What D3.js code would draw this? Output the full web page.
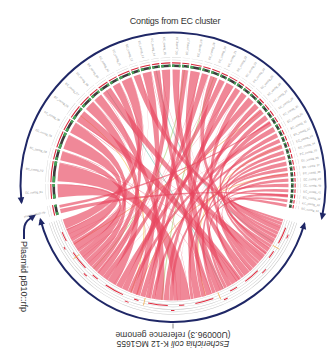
<!DOCTYPE html>
<html>
<head>
<meta charset="utf-8">
<script src="https://cdn.jsdelivr.net/npm/d3@7"></script>
<style>
  html, body { margin: 0; padding: 0; background: #fff; }
  svg { display: block; font-family: "Liberation Sans", Arial, Helvetica, sans-serif; }
</style>
</head>
<body>
<svg id="chart" width="330" height="348"></svg>
<script>
// ---- data -------------------------------------------------------------
const titleText = "Contigs from EC cluster";
const genomeLabel = ["Escherichia coli K-12 MG1655", "(U00096.3) reference genome"];
const plasmidTitle = "Plasmid pB10::rfp";
const plasmidName = "plasmid pB10::rfp";

const contigLabels = [
  "EC_contig_01","EC_contig_02","EC_contig_03","EC_contig_04","EC_contig_05",
  "EC_contig_06","EC_contig_07","EC_contig_08","EC_contig_09","EC_contig_10",
  "EC_contig_11","EC_contig_12","EC_contig_13","EC_contig_14","EC_contig_15",
  "EC_contig_16","EC_contig_17","EC_contig_18","EC_contig_19","EC_contig_20",
  "EC_contig_21","EC_contig_22","EC_contig_23","EC_contig_24","EC_contig_25",
  "EC_contig_26","EC_contig_27","EC_contig_28","EC_contig_29","EC_contig_30",
  "EC_contig_31","EC_contig_32","EC_contig_33","EC_contig_34","EC_contig_35",
  "EC_contig_36","EC_contig_37","EC_contig_38","EC_contig_39","EC_contig_40",
  "EC_contig_41","EC_contig_42","EC_contig_43","EC_contig_44"
];
// contig lengths, kb
const contigLengths = [
  210, 300, 150, 240, 180, 195, 165, 138, 150, 126,
  171, 114, 144, 105, 132, 120, 99, 153, 108, 117,
  96, 129, 90, 102, 111, 87, 93, 84, 81, 78,
  72, 66, 69, 63, 60, 66, 57, 60, 54, 57,
  51, 54, 48, 45
];
const genomeLength = 4641.652; // kb
const plasmidLength = 64.5;    // kb

// alignments: [contig #, contig start kb, contig end kb, genome start kb, genome end kb]
const contigLinks = [
  [1, 10, 199, 4059, 4248], [2, 15, 285, 2047, 2317], [3, 8, 143, 3752, 3887],
  [4, 12, 228, 4253, 4469], [5, 9, 171, 3892, 4054], [6, 10, 186, 1171, 1347],
  [7, 8, 157, 3265, 3414], [8, 7, 131, 2475, 2599], [9, 8, 143, 644, 779],
  [10, 6, 119, 3634, 3747], [11, 9, 163, 4474, 4628], [12, 6, 109, 112, 215],
  [13, 7, 137, 2848, 2978], [14, 5, 100, 1694, 1789], [15, 7, 126, 3510, 3629],
  [16, 6, 114, 999, 1107], [17, 5, 94, 2668, 2757], [18, 8, 146, 1489, 1627],
  [19, 5, 102, 3058, 3155], [20, 6, 111, 343, 448], [21, 5, 91, 3419, 3505],
  [22, 6, 122, 1872, 1988], [23, 4, 85, 2762, 2843], [24, 5, 97, 832, 924],
  [25, 6, 106, 3160, 3260], [26, 4, 82, 1352, 1430], [27, 5, 89, 2386, 2470],
  [28, 4, 80, 504, 580], [29, 4, 77, 1794, 1867], [30, 4, 74, 2983, 3053],
  [31, 4, 69, 929, 994], [32, 3, 62, 2604, 2663], [33, 3, 65, 276, 338],
  [34, 3, 60, 1632, 1689], [35, 3, 57, 585, 639], [36, 3, 62, 2322, 2381],
  [37, 3, 54, 220, 271], [38, 3, 57, 1112, 1166], [39, 3, 52, 1993, 2042],
  [40, 3, 54, 56, 107], [41, 3, 49, 453, 499], [42, 3, 52, 1435, 1484],
  [43, 2, 45, 784, 827], [44, 2, 43, 10, 51]
];
// short repeated hits (IS elements, rRNA operons)
const repeatLinks = [
  [2, 285, 298, 1200, 1213], [4, 228, 238, 2900, 2910], [6, 0, 9, 610, 619],
  [11, 163, 170, 4200, 4207], [15, 0, 6, 150, 156], [18, 146, 152, 3600, 3606],
  [13, 137, 143, 980, 986], [7, 157, 164, 2250, 2257], [22, 122, 128, 3950, 3956],
  [9, 0, 7, 4450, 4457], [25, 106, 110, 300, 304], [3, 143, 149, 1700, 1706],
  [30, 74, 77, 4000, 4003], [19, 102, 107, 520, 525], [1, 199, 209, 2600, 2610],
  [36, 62, 65, 3300, 3303], [5, 171, 179, 1250, 1258], [8, 0, 6, 3500, 3506],
  [10, 119, 125, 2050, 2056], [12, 109, 113, 4300, 4304], [14, 100, 104, 3000, 3004],
  [16, 114, 119, 2700, 2705], [20, 111, 116, 3820, 3825], [23, 85, 89, 1100, 1104],
  [26, 82, 86, 4100, 4104], [28, 80, 83, 2200, 2203], [31, 69, 71, 3450, 3452],
  [34, 60, 62, 4380, 4382], [17, 94, 98, 700, 704], [21, 91, 95, 1550, 1554]
];
// plasmid hits: [plasmid start kb, plasmid end kb, contig #, contig start kb, contig end kb]
const plasmidLinks = [
  [5, 33, 42, 10, 40],
  [40, 58, 29, 20, 40]
];
// faint single-gene hits: [contig #, contig kb, genome kb]
const minorLinks = [
  [6, 100, 3000], [14, 50, 400], [20, 60, 2500], [27, 40, 4200],
  [33, 30, 1800], [9, 70, 1500], [17, 40, 3700], [38, 20, 2900]
];
const minorColors = ["#f2c14e", "#7cc6b5", "#a6d06a", "#f29e4c"];

// genome feature tracks, kb
const genomeRedInner = [
  [120, 380], [520, 640], [900, 1150], [1300, 1420], [1700, 1980], [2150, 2230],
  [2400, 2700], [2850, 2920], [3100, 3400], [3550, 3650], [3800, 4100], [4300, 4450]
];
const genomeRedOuter = [
  [200, 260], [800, 880], [1500, 1560], [2300, 2350], [2980, 3040], [3700, 3760], [4200, 4240]
];
const genomeTicks = [450, 1600, 2760, 4020];

// ---- layout -----------------------------------------------------------
const cx = 173, cy = 185, R = 115.5;
const deg = Math.PI / 180;
const contigSpan = [263.5, 461];
const genomeSpan = [107, 253];
const plasmidSpan = [255.5, 260.5];
const gapDeg = 0.8;
const navy = "#1f2766";
const ribbonColor = "#e8455e";

const nC = contigLengths.length;
const kbPerDeg = d3.sum(contigLengths) / (contigSpan[1] - contigSpan[0] - gapDeg * (nC - 1));
const contigStartDeg = [];
{
  let acc = 0;
  contigLengths.forEach((len, i) => {
    contigStartDeg.push(contigSpan[0] + acc / kbPerDeg + i * gapDeg);
    acc += len;
  });
}
const cAngle = (c, kb) => (contigStartDeg[c - 1] + kb / kbPerDeg) * deg;
const gAngle = d3.scaleLinear().domain([0, genomeLength]).range([genomeSpan[0] * deg, genomeSpan[1] * deg]);
const pAngle = d3.scaleLinear().domain([0, plasmidLength]).range([plasmidSpan[0] * deg, plasmidSpan[1] * deg]);

const svg = d3.select("#chart");
const g = svg.append("g").attr("transform", `translate(${cx},${cy})`);
const arc = d3.arc();
const ribbon = d3.ribbon().radius(R);

// ---- ribbons ----------------------------------------------------------
const ribbonG = g.append("g");
minorLinks.forEach(([c, ck, gk], i) => {
  ribbonG.append("path")
    .attr("d", ribbon({
      source: { startAngle: cAngle(c, ck), endAngle: cAngle(c, ck + 0.6) },
      target: { startAngle: gAngle(gk), endAngle: gAngle(gk + 0.6) }
    }))
    .attr("fill", "none")
    .attr("stroke", minorColors[i % minorColors.length])
    .attr("stroke-width", 0.6)
    .attr("stroke-opacity", 0.6);
});
contigLinks.concat(repeatLinks).forEach(([c, cs, ce, gs, ge]) => {
  ribbonG.append("path")
    .attr("d", ribbon({
      source: { startAngle: cAngle(c, cs), endAngle: cAngle(c, ce) },
      target: { startAngle: gAngle(gs), endAngle: gAngle(ge) }
    }))
    .attr("fill", ribbonColor)
    .attr("fill-opacity", 0.64);
});
plasmidLinks.forEach(([ps, pe, c, cs, ce]) => {
  ribbonG.append("path")
    .attr("d", ribbon({
      source: { startAngle: pAngle(ps), endAngle: pAngle(pe) },
      target: { startAngle: cAngle(c, cs), endAngle: cAngle(c, ce) }
    }))
    .attr("fill", ribbonColor)
    .attr("fill-opacity", 0.64);
});

// ---- contig tracks ----------------------------------------------------
const trackG = g.append("g");
function segmentTrack(a0, a1) {
  const span = a1 - a0;
  trackG.append("path").attr("d", arc({ innerRadius: 118, outerRadius: 120.6, startAngle: a0, endAngle: a1 })).attr("fill", "#3c3c3c");
  trackG.append("path").attr("d", arc({ innerRadius: 118, outerRadius: 120.6, startAngle: a0, endAngle: a0 + span * 0.28 })).attr("fill", "#45a457");
  trackG.append("path").attr("d", arc({ innerRadius: 118, outerRadius: 120.6, startAngle: a1 - span * 0.2, endAngle: a1 })).attr("fill", "#45a457");
  trackG.append("path").attr("d", arc({ innerRadius: 121.6, outerRadius: 122.7, startAngle: a0, endAngle: a1 })).attr("fill", "#d8283c");
  [124.8, 127.3].forEach(r => {
    trackG.append("path").attr("d", arc({ innerRadius: r, outerRadius: r + 0.4, startAngle: a0, endAngle: a1 })).attr("fill", "#d2d2d2");
  });
}
contigLengths.forEach((len, i) => segmentTrack(cAngle(i + 1, 0), cAngle(i + 1, len)));
segmentTrack(pAngle(0), pAngle(plasmidLength));

// ---- genome tracks ----------------------------------------------------
[116.8, 119.3, 121.8, 124.3, 126.8, 129.3].forEach(r => {
  trackG.append("path")
    .attr("d", arc({ innerRadius: r, outerRadius: r + 0.45, startAngle: gAngle(0), endAngle: gAngle(genomeLength) }))
    .attr("fill", "#c4c4c4");
});
genomeRedInner.forEach(([s, e]) => {
  trackG.append("path").attr("d", arc({ innerRadius: 120, outerRadius: 121, startAngle: gAngle(s), endAngle: gAngle(e) })).attr("fill", "#e0283c");
});
genomeRedOuter.forEach(([s, e]) => {
  trackG.append("path").attr("d", arc({ innerRadius: 125, outerRadius: 126, startAngle: gAngle(s), endAngle: gAngle(e) })).attr("fill", "#e0283c");
});
genomeTicks.forEach(k => {
  const a = gAngle(k);
  trackG.append("line")
    .attr("x1", 116.5 * Math.sin(a)).attr("y1", -116.5 * Math.cos(a))
    .attr("x2", 124 * Math.sin(a)).attr("y2", -124 * Math.cos(a))
    .attr("stroke", "#f0a030").attr("stroke-width", 0.7);
});

// ---- radial labels ----------------------------------------------------
function radialLabel(text, a) {
  const d = (a / deg) % 360;
  const flip = d > 180;
  g.append("text")
    .attr("transform", `rotate(${a / deg - 90}) translate(130.5,0)` + (flip ? " rotate(180)" : ""))
    .attr("text-anchor", flip ? "end" : "start")
    .attr("dominant-baseline", "central")
    .attr("font-size", 2.8)
    .attr("fill", "#8a8a8a")
    .text(text);
}
contigLabels.forEach((t, i) => radialLabel(t, cAngle(i + 1, contigLengths[i] / 2)));
radialLabel(plasmidName, pAngle(plasmidLength / 2));

// ---- group arcs with arrows --------------------------------------------
function arrowHead(theta, r, dir) {
  const px = r * Math.sin(theta), py = -r * Math.cos(theta);
  const tx = Math.cos(theta) * dir, ty = Math.sin(theta) * dir;
  const nx = -ty, ny = tx;
  const L = 7, W = 3.3;
  const tipX = px + tx * 2, tipY = py + ty * 2;
  const bx = tipX - tx * L, by = tipY - ty * L;
  g.append("path")
    .attr("d", `M${tipX},${tipY}L${bx + nx * W},${by + ny * W}L${bx - nx * W},${by - ny * W}Z`)
    .attr("fill", navy);
}
function groupArc(a0deg, a1deg, r) {
  const p = d3.path();
  p.arc(0, 0, r, a0deg * deg - Math.PI / 2, a1deg * deg - Math.PI / 2);
  g.append("path").attr("d", p.toString()).attr("fill", "none").attr("stroke", navy).attr("stroke-width", 2);
  arrowHead(a0deg * deg, r, -1);
  arrowHead(a1deg * deg, r, 1);
}
groupArc(263.5, 462.5, 152.5);
groupArc(106.5, 255.3, 137);

// ---- titles -----------------------------------------------------------
svg.append("text")
  .attr("x", 175).attr("y", 21)
  .attr("text-anchor", "middle").attr("dominant-baseline", "central")
  .attr("font-size", 9).attr("fill", "#333")
  .attr("letter-spacing", -0.2)
  .text(titleText);

// reference genome label, drawn upside down under the bottom arc
svg.append("line")
  .attr("x1", 173).attr("y1", 323.5).attr("x2", 173).attr("y2", 328.5)
  .attr("stroke", "#666").attr("stroke-width", 0.8);
const gl = svg.append("g").attr("transform", "translate(173,335) rotate(180)");
const l1 = gl.append("text").attr("y", -8.6).attr("text-anchor", "middle").attr("dominant-baseline", "central")
  .attr("font-size", 8.4).attr("fill", "#333");
l1.append("tspan").attr("font-style", "italic").text(genomeLabel[0].slice(0, 16));
l1.append("tspan").text(genomeLabel[0].slice(16));
gl.append("text").attr("y", 0).attr("text-anchor", "middle").attr("dominant-baseline", "central")
  .attr("font-size", 8.6).attr("fill", "#333").text(genomeLabel[1]);

// plasmid label with hook arrow
svg.append("path")
  .attr("d", "M24,239 L24,230 Q24,222 31,218")
  .attr("fill", "none").attr("stroke", navy).attr("stroke-width", 2);
{
  const tx = 0.8, ty = -0.6, nx = 0.6, ny = 0.8;
  const tipX = 36, tipY = 214.5, L = 7, W = 3.3;
  const bx = tipX - tx * L, by = tipY - ty * L;
  svg.append("path")
    .attr("d", `M${tipX},${tipY}L${bx + nx * W},${by + ny * W}L${bx - nx * W},${by - ny * W}Z`)
    .attr("fill", navy);
}
svg.append("text")
  .attr("transform", "translate(24,241) rotate(90)")
  .attr("dominant-baseline", "central")
  .attr("font-size", 9).attr("fill", "#333")
  .text(plasmidTitle);
</script>
</body>
</html>
